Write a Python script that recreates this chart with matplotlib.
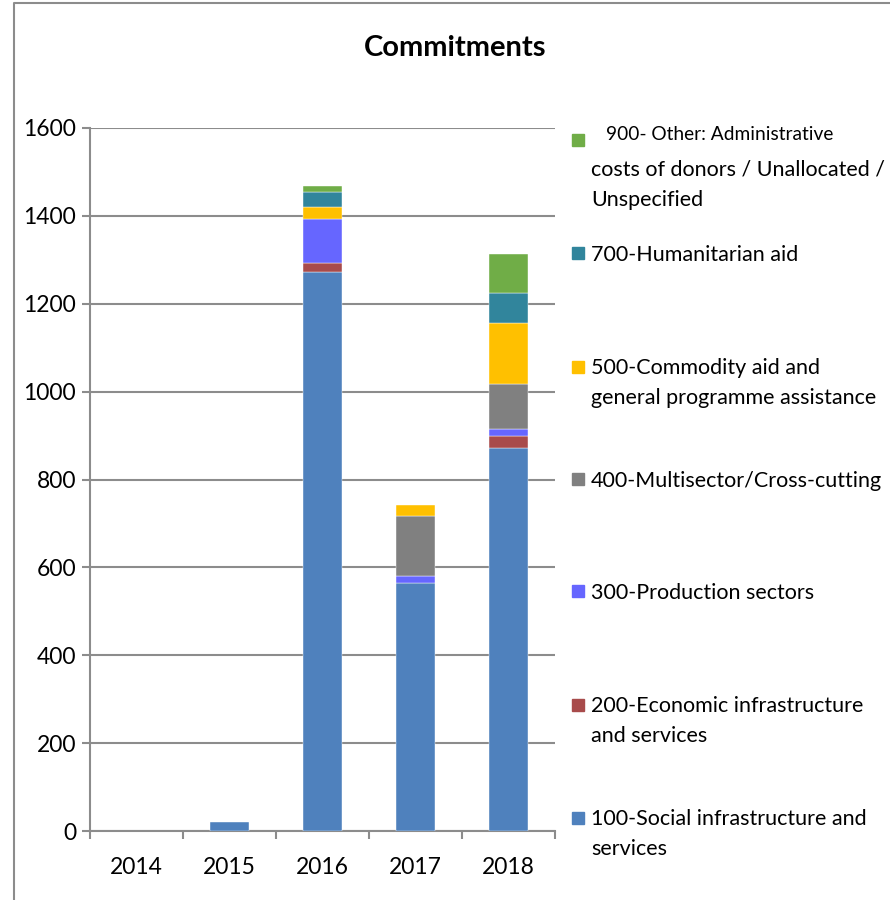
import matplotlib.pyplot as plt
import matplotlib.patches as mpatches
import matplotlib.lines as mlines
import numpy as np

plt.rcParams['font.family'] = ['Lato', 'DejaVu Sans']

years = ["2014", "2015", "2016", "2017", "2018"]
social = [0, 20, 1272, 564, 872]
economic = [0, 0, 20, 0, 28]
production = [0, 0, 101, 16, 15]
multisector = [0, 0, 0, 138, 102]
commodity = [0, 0, 27, 25, 139]
humanitarian = [0, 0, 35, 0, 69]
other = [0, 0, 13, 0, 88]

series = [social, economic, production, multisector, commodity, humanitarian, other]
colors = ["#4F81BD", "#A84B4B", "#6666FF", "#808080", "#FFC000", "#31859C", "#70AD47"]
labels = ["100-Social infrastructure and\nservices",
          "200-Economic infrastructure\nand services",
          "300-Production sectors",
          "400-Multisector/Cross-cutting",
          "500-Commodity aid and\ngeneral programme assistance",
          "700-Humanitarian aid",
          "costs of donors / Unallocated /\nUnspecified"]

fig = plt.figure(figsize=(8.9, 9.0), dpi=100)
ax = fig.add_axes([90/890, 1-831/900, 465/890, 703/900])

x = np.arange(len(years))
bottom = np.zeros(len(years))
for vals, c in zip(series, colors):
    vals = np.array(vals)
    m = vals > 0
    ax.bar(x[m], vals[m], 0.41, bottom=bottom[m], color=c, edgecolor="white", linewidth=0.3, zorder=3)
    bottom += vals

ax.set_xlim(-0.5, 4.5)
ax.set_ylim(0, 1600)
ax.set_yticks(range(0, 1601, 200))
ax.grid(axis="y", color="#8c8c8c", linewidth=1.5, zorder=0)
ax.set_xticks(x)
ax.set_xticklabels(years)
ax.set_xticks(np.arange(-0.5, 5, 1), minor=True)
ax.tick_params(axis="x", which="major", length=0, pad=19, labelsize=16.5)
ax.tick_params(axis="x", which="minor", length=6, color="#8c8c8c", width=1.5)
ax.tick_params(axis="y", length=6, color="#8c8c8c", width=1.5, labelsize=16.5, pad=4)
for s in ["top", "right"]:
    ax.spines[s].set_visible(False)
for s in ["left", "bottom"]:
    ax.spines[s].set_color("#8c8c8c")
    ax.spines[s].set_linewidth(1.5)

fig.text(455/890, 1-48/900, "Commitments", ha="center", va="center", fontsize=21, fontweight="bold")

# legend drawn by hand
ys = [818, 705, 591, 479, 367, 253, 140]
for yy, c, lab in zip(ys, colors, labels):
    fig.patches.append(mpatches.Rectangle((572/890, 1-(yy+6)/900), 12/890, 12/900,
                                          transform=fig.transFigure, color=c))
    if lab.startswith("costs"):
        fig.text(606/890, 1-135/900, "900- Other: Administrative", fontsize=13.8, va="center")
        fig.text(591/890, 1-185/900, lab, fontsize=15.5, va="center", linespacing=1.65)
    else:
        fig.text(591/890, 1-(yy+2+14*(lab.count("\n")))/900, lab, fontsize=15.5, va="center", linespacing=1.65)

fig.lines.append(mlines.Line2D([14/890, 14/890, 1], [0, 1-3/900, 1-3/900], transform=fig.transFigure,
                               color="#8c8c8c", linewidth=1.5))

fig.savefig("out.png", dpi=100)
